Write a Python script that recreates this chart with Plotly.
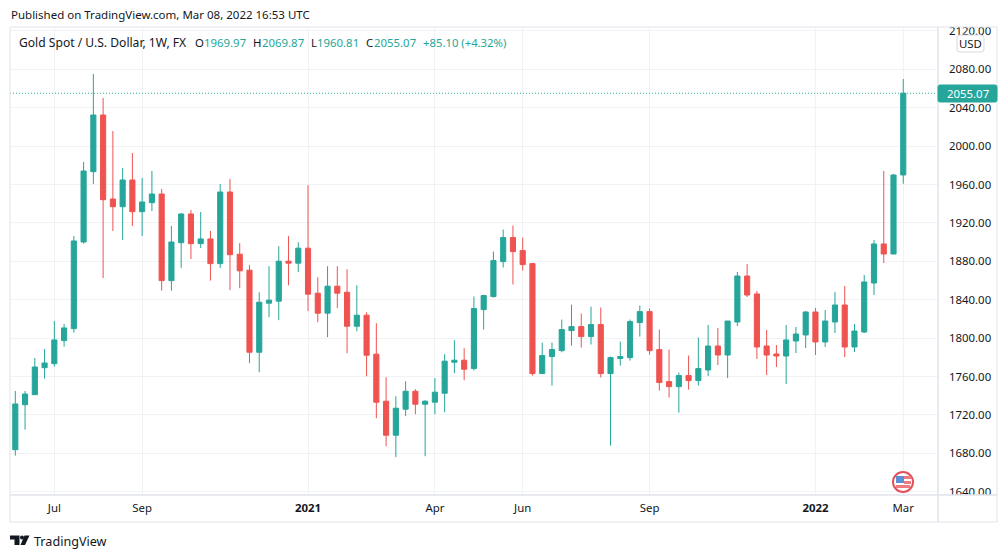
import pandas as pd
import plotly.graph_objects as go

GREEN = "#26a69a"
RED = "#ef5350"
INK = "#131722"
GRID = "#f0f2f5"
BORDER = "#e0e3eb"
FONT = "Noto Sans"

# weekly candles, first one is the week of 2020-06-01
dates = pd.date_range("2020-06-01", periods=92, freq="7D")

opens = [1683.8, 1730.7, 1741.1, 1769.2, 1773.4, 1797.4, 1809.9, 1900.1, 1973.4, 2032.4,
         1944.9, 1936.9, 1964.7, 1931.7, 1941.1, 1950.1, 1859.9, 1899.4, 1929.3, 1898.4,
         1903.3, 1877.6, 1952.2, 1887.4, 1870.8, 1785.3, 1836.4, 1838.5, 1880.1, 1878.1,
         1893.7, 1846.8, 1826.0, 1854.1, 1847.8, 1812.4, 1823.9, 1783.3, 1734.3, 1698.9,
         1726.0, 1744.7, 1731.2, 1733.3, 1742.6, 1774.9, 1777.0, 1768.3, 1829.7, 1843.3,
         1879.7, 1904.7, 1891.2, 1877.6, 1763.1, 1780.8, 1787.0, 1807.8, 1812.0, 1801.6,
         1814.1, 1763.1, 1778.7, 1779.7, 1816.2, 1827.6, 1788.1, 1754.7, 1749.5, 1761.0,
         1755.8, 1766.8, 1791.8, 1782.4, 1816.8, 1864.7, 1846.0, 1791.8, 1783.5, 1781.4,
         1797.0, 1803.3, 1827.2, 1796.0, 1816.8, 1834.5, 1790.8, 1806.4, 1857.4, 1898.1,
         1887.6, 1969.97]
highs = [1744.9, 1744.9, 1779.3, 1788.7, 1817.8, 1814.7, 1906.4, 1983.5, 2075.1, 2050.1,
         2015.8, 1977.2, 1992.8, 1966.8, 1974.1, 1955.3, 1916.8, 1930.3, 1933.5, 1931.4,
         1911.6, 1960.6, 1965.8, 1898.9, 1876.0, 1847.8, 1874.9, 1895.8, 1906.2, 1899.9,
         1959.3, 1863.5, 1874.9, 1874.9, 1871.8, 1855.1, 1827.0, 1815.6, 1759.3, 1739.5,
         1755.1, 1746.8, 1735.3, 1758.3, 1783.3, 1797.8, 1789.5, 1843.3, 1845.3, 1890.1,
         1913.1, 1917.2, 1904.7, 1877.6, 1795.3, 1795.3, 1819.3, 1834.9, 1825.6, 1832.8,
         1831.8, 1780.8, 1796.4, 1819.3, 1833.9, 1830.8, 1808.9, 1788.1, 1764.1, 1781.8,
         1800.6, 1813.7, 1810.6, 1817.8, 1868.9, 1877.2, 1849.1, 1808.5, 1792.8, 1813.7,
         1811.6, 1828.3, 1831.4, 1829.3, 1848.1, 1854.3, 1814.7, 1865.8, 1902.2, 1974.1,
         1971.0, 2069.87]
lows = [1677.6, 1704.7, 1741.1, 1757.8, 1770.3, 1791.1, 1805.7, 1898.4, 1960.6, 1862.6,
        1911.6, 1902.2, 1916.8, 1906.4, 1932.4, 1849.4, 1849.4, 1873.1, 1882.4, 1893.9,
        1859.9, 1873.1, 1850.1, 1852.0, 1773.9, 1764.5, 1821.8, 1818.7, 1855.1, 1868.7,
        1828.1, 1816.6, 1801.0, 1831.2, 1784.3, 1807.2, 1760.3, 1716.6, 1687.4, 1676.0,
        1718.7, 1720.8, 1677.0, 1720.8, 1722.8, 1763.5, 1756.2, 1766.2, 1808.9, 1842.2,
        1873.5, 1855.8, 1870.3, 1761.0, 1763.1, 1750.6, 1785.3, 1792.2, 1790.1, 1793.3,
        1758.9, 1688.1, 1771.4, 1776.6, 1801.6, 1782.8, 1745.3, 1738.1, 1722.4, 1746.4,
        1750.6, 1760.6, 1772.0, 1758.5, 1812.6, 1842.8, 1778.3, 1761.6, 1769.9, 1752.2,
        1784.5, 1789.7, 1782.4, 1790.8, 1805.3, 1780.3, 1785.6, 1805.3, 1844.9, 1878.3,
        1887.6, 1960.81]
closes = [1731.4, 1741.8, 1769.9, 1774.1, 1798.1, 1810.6, 1901.2, 1974.1, 2032.4, 1944.2,
          1936.9, 1964.7, 1931.7, 1941.8, 1950.1, 1859.9, 1900.1, 1929.3, 1898.4, 1903.3,
          1877.6, 1952.2, 1886.9, 1870.1, 1785.3, 1837.4, 1839.5, 1880.1, 1878.1, 1893.7,
          1845.8, 1826.0, 1854.1, 1846.8, 1812.4, 1823.9, 1782.2, 1733.3, 1698.9, 1727.0,
          1744.7, 1731.2, 1734.3, 1743.7, 1776.0, 1777.0, 1767.6, 1830.8, 1844.3, 1880.8,
          1904.7, 1890.1, 1876.6, 1763.1, 1781.8, 1788.1, 1808.9, 1812.0, 1801.6, 1814.1,
          1763.1, 1779.7, 1780.8, 1817.2, 1827.6, 1787.0, 1753.7, 1749.5, 1761.0, 1755.8,
          1768.3, 1791.8, 1782.4, 1817.8, 1864.7, 1844.9, 1790.8, 1782.4, 1781.4, 1798.1,
          1804.3, 1827.2, 1796.0, 1817.8, 1834.5, 1790.8, 1807.4, 1858.5, 1898.1, 1887.6,
          1969.9, 2055.07]

x_tick_dates = ["2020-06-29", "2020-08-31", "2020-12-28", "2021-03-29",
                "2021-05-31", "2021-08-30", "2021-12-27", "2022-02-28"]
x_tick_labels = ["Jul", "Sep", "<b>2021</b>", "Apr", "Jun", "Sep", "<b>2022</b>", "Mar"]
y_ticks = [1640, 1680, 1720, 1760, 1800, 1840, 1880, 1920, 1960, 2000, 2040, 2080, 2120]
last_price = 2055.07

# plot area in window pixels
LEFT, RIGHT, TOP, BOTTOM = 10, 938, 27, 495


def px(x):
    return (x - LEFT) / (RIGHT - LEFT)


def py(y):
    return (BOTTOM - y) / (BOTTOM - TOP)


def box(x0, y0, x1, y1, fill=None, line=None, width=1, kind="rect"):
    return dict(type=kind, xref="paper", yref="paper", layer="above",
                x0=px(x0), x1=px(x1), y0=py(y0), y1=py(y1),
                fillcolor=fill or "rgba(0,0,0,0)",
                line=dict(color=line or "rgba(0,0,0,0)", width=width if line else 0))


def poly(points, fill):
    path = "M " + " L ".join(f"{px(a):.5f},{py(b):.5f}" for a, b in points) + " Z"
    return dict(type="path", xref="paper", yref="paper", layer="above", path=path,
                fillcolor=fill, line=dict(width=0))


def rounded(x0, y0, x1, y1, r, fill, line=None):
    def p(a, b):
        return f"{px(a):.5f},{py(b):.5f}"
    path = (f"M {p(x0 + r, y0)} L {p(x1 - r, y0)} Q {p(x1, y0)} {p(x1, y0 + r)} "
            f"L {p(x1, y1 - r)} Q {p(x1, y1)} {p(x1 - r, y1)} L {p(x0 + r, y1)} "
            f"Q {p(x0, y1)} {p(x0, y1 - r)} L {p(x0, y0 + r)} Q {p(x0, y0)} {p(x0 + r, y0)} Z")
    return dict(type="path", xref="paper", yref="paper", layer="above", path=path,
                fillcolor=fill, line=dict(color=line or fill, width=1))


def label(x, y, text, color=INK, size=11.4, anchor="left", family=FONT):
    return dict(xref="paper", yref="paper", x=px(x), y=py(y), text=text, showarrow=False,
                xanchor=anchor, yanchor="middle", xshift=0, borderpad=0,
                font=dict(family=family, size=size, color=color))


fig = go.Figure(go.Candlestick(
    x=dates, open=opens, high=highs, low=lows, close=closes,
    increasing=dict(line=dict(color=GREEN, width=1), fillcolor=GREEN),
    decreasing=dict(line=dict(color=RED, width=1), fillcolor=RED),
    hoverinfo="skip",
))

week = pd.Timedelta(days=7)
shapes = [
    dict(type="line", xref="paper", yref="y", x0=0, x1=1, y0=last_price, y1=last_price,
         layer="above", line=dict(color=GREEN, width=1, dash="1px,2px")),
    # masks that cut the end tick labels the way the chart frame does
    box(939, 0, 1004, TOP, fill="white"),
    box(939, BOTTOM, 996, 503, fill="white"),
    # frame
    box(LEFT, TOP, 997, 522, line=BORDER, width=1),
    box(RIGHT, TOP, RIGHT, 522, line=BORDER),
    box(LEFT, BOTTOM, 997, BOTTOM, line=BORDER),
    # last price tag and currency button
    rounded(RIGHT, 85, 997, 102, 2, GREEN),
    rounded(957, 35, 984, 52, 3, "white", line="#d6d9e0"),
    # flag
    box(893, 472, 913, 492, fill="white", line="#e4515a", width=2, kind="circle"),
    box(896, 476, 904, 483, fill="#5b8fd6"),
    box(904, 476, 911, 479, fill="#ef7a80"),
    box(904, 481, 911, 484, fill="#ef7a80"),
    box(896, 485, 910, 488, fill="#ef7a80"),
    # TradingView logo
    poly([(10, 535.5), (19.5, 535.5), (19.5, 545), (14.5, 545), (14.5, 539.5), (10, 539.5)], "#131722"),
    box(20, 535.5, 24, 539.5, fill="#131722", kind="circle"),
    poly([(24.5, 535.5), (29.5, 535.5), (25, 545), (20.5, 545)], "#131722"),
]

annotations = [
    label(10, 14, "Published on TradingView.com, Mar 08, 2022 16:53 UTC", size=11.5),
    label(18, 42, "Gold Spot / U.S. Dollar, 1W, FX", size=12.1),
    label(194, 42, "O"), label(203, 42, "1969.97", GREEN),
    label(252, 42, "H"), label(261, 42, "2069.87", GREEN),
    label(310, 42, "L"), label(316, 42, "1960.81", GREEN),
    label(365, 42, "C"), label(373, 42, "2055.07", GREEN),
    label(422, 42, "+85.10 (+4.32%)", GREEN, size=11.3),
    label(968, 93.5, "2055.07", "white", anchor="center"),
    label(970.5, 43.5, "USD", anchor="center"),
    label(33, 541, "TradingView", size=12.6),
]

fig.update_layout(
    width=1004, height=554,
    margin=dict(l=LEFT, r=1004 - RIGHT, t=TOP, b=554 - BOTTOM, pad=0),
    paper_bgcolor="white", plot_bgcolor="white",
    showlegend=False, hovermode=False, boxgap=0.25,
    font=dict(family=FONT, size=11.4, color=INK),
    shapes=shapes, annotations=annotations,
)
fig.update_xaxes(
    type="date", rangeslider_visible=False,
    range=[dates[0] - 0.543 * week, dates[0] + 94.56 * week],
    tickmode="array", tickvals=x_tick_dates, ticktext=x_tick_labels,
    showgrid=True, gridcolor=GRID, gridwidth=1, zeroline=False,
    showline=False, ticks="", ticklabelstandoff=5,
)
fig.update_yaxes(
    side="right", range=[1636.6, 2124.06],
    tickmode="array", tickvals=y_ticks, tickformat=".2f",
    showgrid=True, gridcolor=GRID, gridwidth=1, zeroline=False,
    showline=False, ticks="", ticklabelstandoff=10,
)

# the page's default body margin would push the 1004x554 figure off the window
fig.write_html("out.html", config=dict(displayModeBar=False),
               post_script="document.body.style.margin='0';")
